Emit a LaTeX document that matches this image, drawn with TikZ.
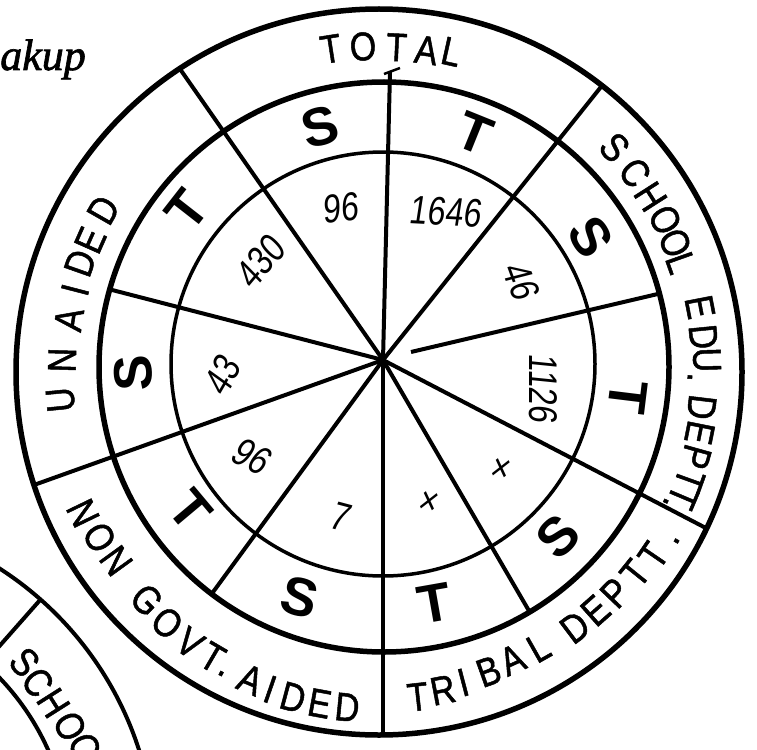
\documentclass[tikz,border=0pt]{standalone}
\usepackage{fontspec}
\setmainfont{Liberation Sans}
\newfontfamily\lblfont[FakeStretch=0.85,FakeBold=1.2]{Liberation Sans}
\newfontfamily\numfont[FakeStretch=0.8,FakeSlant=0.1]{Liberation Sans}
\newfontfamily\handfont[FakeBold=1.5]{Liberation Serif}
\tikzset{
  ringA/.style={line width=5.5pt},
  ringB/.style={line width=3.5pt},
  spoke/.style={line width=4pt},
  lbl/.style={font=\lblfont\fontsize{40}{40}\selectfont, inner sep=0pt},
  stl/.style={font=\fontsize{54}{54}\selectfont\bfseries, inner sep=0pt},
  numl/.style={font=\numfont\fontsize{40}{40}\selectfont, inner sep=0pt},
}
\begin{document}
\begin{tikzpicture}[x=1pt,y=-1pt]
\useasboundingbox (0,0) rectangle (757,749);
\coordinate (O) at (383,360);
\coordinate (C1) at (379,372);
\coordinate (C2) at (384,367);
\coordinate (C3) at (383,364);
\coordinate (LC) at (381,369);
\coordinate (P) at (-183,853);

% rings
\draw[ringA] (C1) circle[radius=363pt];
\draw[ringA] (C2) circle[radius=285pt];
\draw[ringB] (C3) circle[radius=212pt];

% spoke ends
\coordinate (e1) at (390,72);
\coordinate (e2) at (179.8,68.7);
\coordinate (e3) at (109.8,289.4);
\coordinate (e4) at (34.2,484.9);
\coordinate (e5) at (211.6,594);
\coordinate (e6) at (383,734.8);
\coordinate (e7) at (529.6,611.9);
\coordinate (e8) at (706.6,528.4);
\coordinate (e10) at (602,85.6);
\coordinate (e9s) at (411,352);
\coordinate (e9) at (659.4,293.6);
\foreach \e in {e1,e2,e3,e4,e5,e6,e7,e8,e10}
  \draw[spoke] (O) -- (\e);
\draw[spoke] (e9s) -- (e9);
\coordinate (k1) at (384,74);
\coordinate (k2) at (400,68);
\draw[line width=2.5pt] (k1) -- (k2);

% ring labels (tops outward)
\foreach \ch/\a/\r [count=\i] in {T/98.9/324, O/93.2/323, T/87.2/322, A/81.9/322, L/77.5/325}
  \node[lbl, rotate={\a-90}] (tot\i) at ([shift={({-(\a)}:\r)}]LC) {\ch};
\foreach \ch/\a/\r [count=\i] in {S/43.5/322, C/37.7/321, H/32.6/320, O/27.7/321, O/23.2/320, L/19.5/318, E/11.0/325, D/5.7/324, U/1.6/326, ./-1.5/309, D/-6.8/323, E/-11.3/325, P/-15.6/327, T/-19.8/328, T/-23.0/328, ./-24.9/314}
  \node[lbl, rotate={\a-90}] (sch\i) at ([shift={({-(\a)}:\r)}]LC) {\ch};
\foreach \ch/\a/\r [count=\i] in {U/185.5/322, N/178.4/319, A/171.0/316, I/165.5/316, D/160.6/319, E/156.1/318, D/150.2/320}
  \node[lbl, rotate={\a-90}] (una\i) at ([shift={({-(\a)}:\r)}]LC) {\ch};
% ring labels (tops inward)
\foreach \ch/\a/\r [count=\i] in {T/-83.6/330, R/-79.1/327, I/-75.3/324, B/-70.4/321, A/-65.7/319, L/-60.5/320, D/-53.1/323, E/-48.4/323, P/-43.7/324, T/-38.8/326, T/-34.4/330, ./-30.2/342}
  \node[lbl, rotate={\a+90}] (tri\i) at ([shift={({-(\a)}:\r)}]LC) {\ch};
\foreach \ch/\a/\r [count=\i] in {N/205.8/331, O/210.9/328, N/215.9/327, G/224.6/329, O/229.9/332, V/235.1/334, T/239.7/334, ./242.3/344, A/247.2/337, I/250.9/339, D/255.0/340, E/259.6/340, D/264.3/340}
  \node[lbl, rotate={\a+90}] (ngo\i) at ([shift={({-(\a)}:\r)}]LC) {\ch};

% S / T letters
\foreach \ch/\x/\y/\r [count=\i] in {S/320/127/15, T/475/133/-22, S/591/237/-58, T/628/397/-97, S/558/537/45, T/435/603/10, S/300/597/-15, T/190/510/-50, S/133/373/92, T/187/210/52}
  \node[stl, rotate=\r] (st\i) at (\x,\y) {\ch};

% numbers
\node[numl, rotate=5] (n1) at (340,208) {96};
\node[numl, rotate=-3] (n2) at (445,212) {1646};
\node[numl, rotate=-70] (n3) at (521,281) {46};
\node[numl, rotate=-90] (n4) at (543,388) {1126};
\node[numl, rotate=-10] (n5) at (500,470) {×};
\node[numl, rotate=-10] (n6) at (428,503) {×};
\node[numl, rotate=-15] (n7) at (340,517) {7};
\node[numl, rotate=-30] (n8) at (251,456) {96};
\node[numl, rotate=60] (n9) at (222,376) {43};
\node[numl, rotate=50] (n10) at (260,262) {430};

% handwritten word
\node[font=\handfont\itshape\fontsize{44}{44}\selectfont, inner sep=0pt, anchor=base east] (hw) at (86,70) {akup};

% second (partial) circle
\begin{scope}
\clip (0,0) rectangle (757,749);
\draw[line width=4pt] (P) circle[radius=338pt];
\draw[line width=4pt] (P) circle[radius=253pt];
\coordinate (d1) at ([shift={(-48.6:253)}]P);
\coordinate (d2) at ([shift={(-48.6:338)}]P);
\draw[line width=4pt] (d1) -- (d2);
\foreach \ch/\a/\r [count=\i] in {S/42.6/282, C/37.7/279, H/32.4/280, O/26.6/283, O/21.5/288}
  \node[lbl, rotate={\a-90}] (sc\i) at ([shift={({-(\a)}:\r)}]P) {\ch};
\end{scope}
\end{tikzpicture}
\end{document}
